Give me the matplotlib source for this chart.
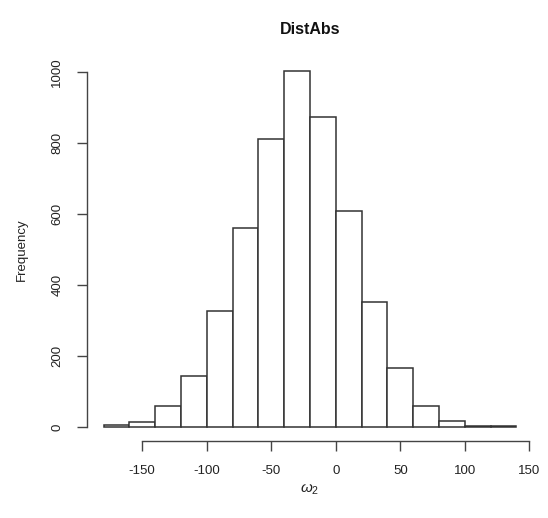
import numpy as np
import matplotlib.pyplot as plt

plt.rcParams['font.family'] = ['Liberation Sans', 'DejaVu Sans']
plt.rcParams['mathtext.fontset'] = 'custom'
plt.rcParams['mathtext.it'] = 'Liberation Sans:italic'
plt.rcParams['mathtext.rm'] = 'Liberation Sans'

# histogram bins (edges) and counts
bin_edges = [-180, -160, -140, -120, -100, -80, -60, -40, -20, 0, 20, 40, 60, 80, 100, 120, 140]
counts = [5, 14, 60, 144, 327, 562, 811, 1002, 874, 609, 351, 165, 60, 15, 3, 2]
x_ticks = [-150, -100, -50, 0, 50, 100, 150]
y_ticks = [0, 200, 400, 600, 800, 1000]

fig = plt.figure(figsize=(5.48, 5.18), dpi=100)
ax = fig.add_axes([87 / 548, 77 / 518, (533 - 87) / 548, (441 - 58) / 518])

edges = np.array(bin_edges)
ax.bar(edges[:-1], counts, width=np.diff(edges), align='edge',
       facecolor='white', edgecolor='#333333', linewidth=1.1)

ax.set_xlim(-192.8, 152.8)
ax.set_ylim(-40, 1040)

# R-like axes: only the tick range is drawn
for s in ['top', 'right']:
    ax.spines[s].set_visible(False)
ax.spines['left'].set_bounds(0, 1000)
ax.spines['bottom'].set_bounds(-150, 150)
for s in ['left', 'bottom']:
    ax.spines[s].set_color('#444444')
    ax.spines[s].set_linewidth(1.0)

ax.set_xticks(x_ticks)
ax.set_yticks(y_ticks)
ax.set_xticklabels([str(v) for v in x_ticks])
ax.set_yticklabels([str(v) for v in y_ticks], rotation=90, va='center')
ax.tick_params(axis='both', length=7, width=1.0, color='#444444',
               labelsize=9.5, labelcolor='#222222')
ax.tick_params(axis='x', pad=10)
ax.tick_params(axis='y', pad=10)

fig.text(0.5 * (87 + 533) / 548, 1 - 30 / 518, 'DistAbs', ha='center', va='center',
         fontsize=11.5, fontweight='bold', color='#111111')
fig.text(0.5 * (87 + 533) / 548, 1 - 490 / 518, r'$\omega_2$', ha='center', va='center',
         fontsize=11, color='#222222')
fig.text(22 / 548, 1 - 250 / 518, 'Frequency', ha='center', va='center',
         rotation=90, fontsize=9.5, color='#222222')

fig.savefig('out.png', dpi=100)
